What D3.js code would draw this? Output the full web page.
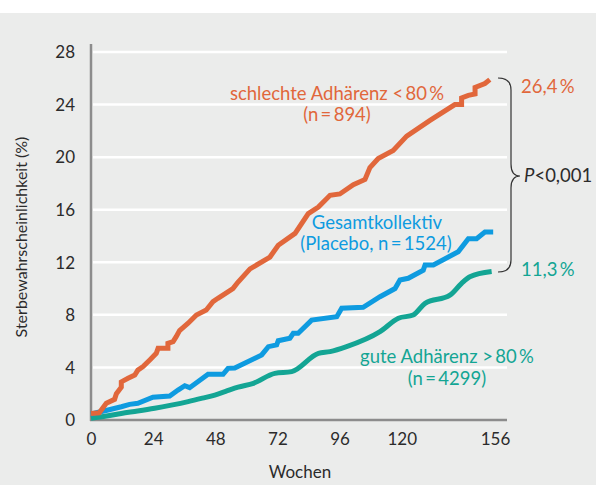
<!DOCTYPE html>
<html><head><meta charset="utf-8">
<script src="https://cdn.jsdelivr.net/npm/d3@7"></script>
<style>
html,body{margin:0;padding:0;background:#fff;}
svg{display:block;font-family:Lato,"Open Sans",sans-serif;}
</style></head>
<body>
<svg id="chart" width="596" height="485"></svg>
<script>
const xTicks = [0, 24, 48, 72, 96, 120, 156];
const yTicks = [0, 4, 8, 12, 16, 20, 24, 28];

const poorWeeks = [0,3.2,5.9,9.1,9.8,11.7,11.7,14.3,16.9,18.1,20.1,22.7,25.2,25.9,29.7,29.7,31.7,32.9,34.2,37.5,40.7,44.5,47.1,49,54.8,56.8,61.4,69.1,72.3,78.8,83.9,87.8,92.3,96.1,101.3,105.8,107.7,110.9,116.7,121.9,130.9,140.5,143.1,143.1,145.7,148.3,148.3,152.1,154];
const poorValues = [0.5,0.55,1.27,1.57,2.0,2.5,2.9,3.17,3.42,3.8,4.06,4.57,5.07,5.45,5.45,5.83,5.96,6.34,6.8,7.36,7.99,8.37,9.0,9.26,10.0,10.5,11.5,12.4,13.3,14.2,15.7,16.2,17.1,17.2,17.9,18.3,19.2,19.9,20.5,21.6,22.8,24.0,24.0,24.5,24.7,24.8,25.3,25.6,25.9];

const allWeeks = [0,6.6,11.7,14.9,18.1,23.9,30.4,33.6,36.2,38.1,45.2,51,52.9,55.5,65.9,68.5,71.7,72.3,76.8,78.1,80,85.2,94.9,96.8,105.1,111.6,117.4,119.3,122.5,128.3,129,132.2,141.8,145.7,148.9,152.1,155.3];
const allValues = [0.46,0.76,1.01,1.19,1.27,1.73,1.83,2.28,2.61,2.46,3.48,3.48,3.93,3.95,4.95,5.58,5.71,6.03,6.22,6.6,6.6,7.6,7.86,8.5,8.57,9.38,10.0,10.65,10.78,11.4,11.8,11.8,12.8,13.8,13.8,14.3,14.3];

const goodWeeks = [0,6,11.7,18,24.6,31,37.5,43,47.8,52,56.8,62.7,71,77.5,87.8,92.3,98.7,111.6,118.7,124.4,129,138.6,143.1,146.3,154.7];
const goodValues = [0.13,0.3,0.5,0.68,0.89,1.13,1.4,1.66,1.9,2.18,2.5,2.79,3.55,3.68,5.07,5.2,5.58,6.72,7.74,7.99,8.88,9.5,10.4,10.9,11.3];

const C_POOR = "#e1673b", C_ALL = "#0e9be0", C_GOOD = "#13a594";
const TS = "\u2009";

const svg = d3.select("#chart");
svg.append("rect").attr("x",0).attr("y",13).attr("width",596).attr("height",472).attr("fill","#ebeceb");

const x = d3.scaleLinear().domain([0,156]).range([91,495]);
const y = d3.scaleLinear().domain([0,28]).range([420,52]);

// gridlines
svg.append("g").selectAll("line").data(yTicks.filter(d=>d>0)).join("line")
  .attr("x1",93).attr("x2",507).attr("y1",d=>y(d)).attr("y2",d=>y(d))
  .attr("stroke","#fff").attr("stroke-width",2.5);

// axes
const yAxis = d3.axisLeft(y).tickValues(yTicks).tickSize(0).tickPadding(16);
const gy = svg.append("g").attr("transform","translate(91,0)").call(yAxis);
gy.select(".domain").remove();
gy.selectAll("text").attr("font-size",17).attr("fill","#2b2b2b").attr("font-family","Lato").attr("dy","0.34em");

const xAxis = d3.axisBottom(x).tickValues(xTicks).tickSize(0).tickPadding(13);
const gx = svg.append("g").attr("transform","translate(0,420)").call(xAxis);
gx.select(".domain").remove();
gx.selectAll("text").attr("font-size",17).attr("fill","#2b2b2b").attr("font-family","Lato");

svg.append("line").attr("x1",91).attr("x2",91).attr("y1",44).attr("y2",421).attr("stroke","#8c8c8c").attr("stroke-width",2.5);
svg.append("line").attr("x1",90).attr("x2",507).attr("y1",420).attr("y2",420).attr("stroke","#8c8c8c").attr("stroke-width",2.5);

// lines
function drawLine(ws, vs, color, curve){
  const pts = ws.map((w,i)=>[w,vs[i]]);
  const gen = d3.line().x(d=>x(d[0])).y(d=>y(d[1])).curve(curve||d3.curveLinear);
  svg.append("path").attr("d",gen(pts)).attr("fill","none").attr("stroke",color)
    .attr("stroke-width",5).attr("stroke-linejoin","miter").attr("stroke-linecap","butt");
}
drawLine(goodWeeks, goodValues, C_GOOD, d3.curveMonotoneX);
drawLine(allWeeks, allValues, C_ALL);
drawLine(poorWeeks, poorValues, C_POOR);

// labels
function label(t, xx, yy, color, anchor, fs){
  svg.append("text").attr("x",xx).attr("y",yy).attr("fill",color).attr("font-size",fs||18.5)
    .attr("text-anchor",anchor||"middle").text(t);
}
label("schlechte Adhärenz"+" <"+TS+"80"+TS+"%", 337, 100, C_POOR);
label("(n"+TS+"="+TS+"894)", 337, 121, C_POOR);
label("Gesamtkollektiv", 377, 229, C_ALL);
label("(Placebo, n"+TS+"="+TS+"1524)", 376, 250, C_ALL);
label("gute Adhärenz"+" >"+TS+"80"+TS+"%", 447, 363, C_GOOD);
label("(n"+TS+"="+TS+"4299)", 447, 385, C_GOOD);
label("26,4"+TS+"%", 521, 93, C_POOR, "start");
label("11,3"+TS+"%", 521, 276, C_GOOD, "start");

const pt = svg.append("text").attr("x",524).attr("y",182).attr("fill","#2b2b2b").attr("font-size",18.5);
pt.append("tspan").attr("font-style","italic").text("P");
pt.append("tspan").text("<0,001");

// brace
svg.append("path")
  .attr("d","M498,78 Q511,78 511,90 L511,164 Q511,176 520,176 Q511,176 511,188 L511,260 Q511,272 498,272")
  .attr("fill","none").attr("stroke","#333").attr("stroke-width",1.2);

// axis titles
svg.append("text").attr("x",300).attr("y",478).attr("text-anchor","middle").attr("font-size",17).attr("fill","#2b2b2b").text("Wochen");
svg.append("text").attr("transform","translate(27,237) rotate(-90)").attr("text-anchor","middle")
  .attr("font-size",16).attr("fill","#2b2b2b").text("Sterbewahrscheinlichkeit (%)");
</script>
</body></html>
